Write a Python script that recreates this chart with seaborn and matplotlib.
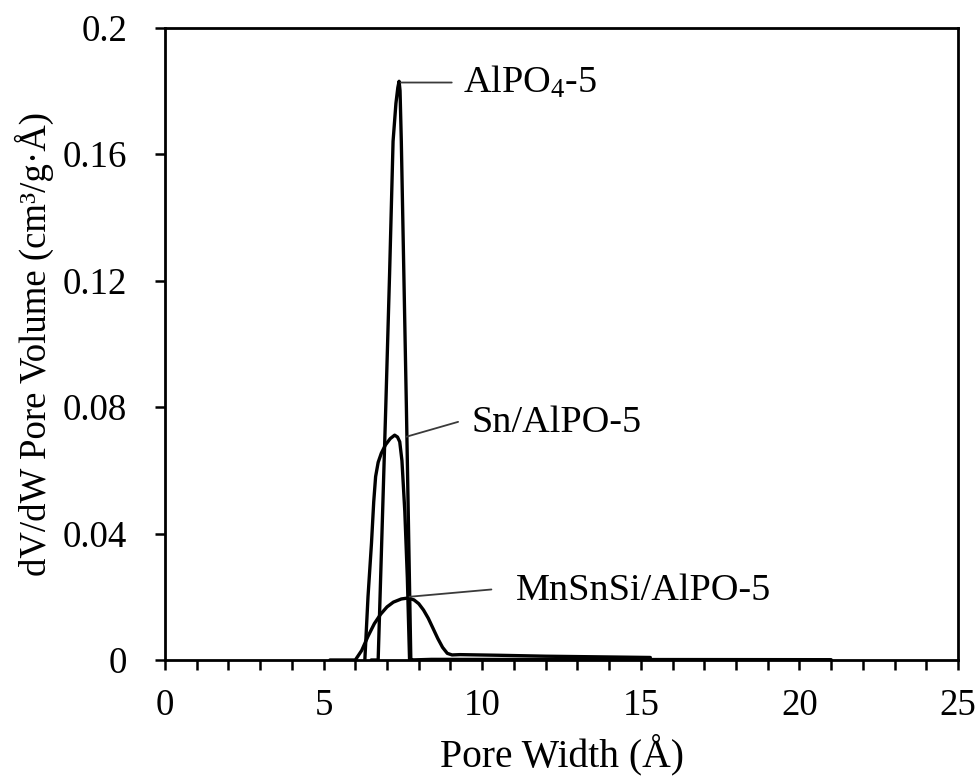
import numpy as np
import pandas as pd
import matplotlib
matplotlib.use("Agg")
import matplotlib.pyplot as plt
import seaborn as sns
from matplotlib.ticker import MultipleLocator

# ---- data ----
alpo_x = [6.50, 6.72, 6.84, 6.96, 7.08, 7.19, 7.28, 7.34, 7.38, 7.41, 7.45, 7.53, 7.61, 7.68, 7.75, 7.80]
alpo_y = [0.0, 0.0, 0.040, 0.080, 0.122, 0.164, 0.176, 0.181, 0.183, 0.180, 0.164, 0.122, 0.080, 0.040, 0.0, 0.0]

sn_x = [6.30, 6.40, 6.51, 6.58, 6.64, 6.72, 6.82, 6.95, 7.10, 7.24, 7.33, 7.40, 7.47, 7.56, 7.64, 7.71, 8.40, 21.0]
sn_y = [0.0, 0.020, 0.037, 0.050, 0.058, 0.0625, 0.0654, 0.0680, 0.0700, 0.0711, 0.0705, 0.0690, 0.063, 0.047, 0.026, 0.0, 0.0002, 0.0001]

mn_x = [5.2, 6.0, 6.2, 6.4, 6.6, 6.8, 7.0, 7.2, 7.45, 7.66, 7.85, 8.0, 8.15, 8.3, 8.45, 8.6, 8.75, 8.9, 9.05, 9.3, 10.5, 12.0, 15.3]
mn_y = [0.0, 0.0, 0.0030, 0.0075, 0.0115, 0.0145, 0.0168, 0.0183, 0.0193, 0.0196, 0.0190, 0.0178, 0.0158, 0.0132, 0.0100, 0.0068, 0.0040, 0.0021, 0.0016, 0.0017, 0.0015, 0.0012, 0.0008]

series_names = ["AlPO$_\\mathregular{4}$-5", "Sn/AlPO-5", "MnSnSi/AlPO-5"]
label_pos = [(9.38, 0.1826), (9.66, 0.0749), (11.07, 0.0220)]
leader_start = [(7.44, 0.1826), (7.61, 0.0706), (7.71, 0.0200)]
leader_end = [(9.04, 0.1826), (9.24, 0.0753), (10.29, 0.0223)]

x_ticks = [0, 5, 10, 15, 20, 25]
y_ticks = [0, 0.04, 0.08, 0.12, 0.16, 0.2]
y_ticklabels = ["0", "0.04", "0.08", "0.12", "0.16", "0.2"]

df = pd.concat([
    pd.DataFrame({"x": alpo_x, "y": alpo_y, "s": "AlPO4-5"}),
    pd.DataFrame({"x": sn_x, "y": sn_y, "s": "Sn/AlPO-5"}),
    pd.DataFrame({"x": mn_x, "y": mn_y, "s": "MnSnSi/AlPO-5"}),
], ignore_index=True)

sns.set_theme(style="white")
plt.rcParams["font.family"] = ["Liberation Serif", "DejaVu Serif"]
plt.rcParams["mathtext.fontset"] = "custom"
plt.rcParams["mathtext.rm"] = "Liberation Serif"
plt.rcParams["mathtext.it"] = "Liberation Serif:italic"

fig = plt.figure(figsize=(9.77, 7.82), dpi=100)
ax = fig.add_axes([165/977, (782-660)/782, (958-165)/977, (660-27.5)/782])

sns.lineplot(data=df, x="x", y="y", hue="s", units="s", estimator=None, sort=False,
             palette=["black", "black", "black"], linewidth=2.4, legend=False, ax=ax)

for (tx, ty), (sx, sy), (ex, ey), name in zip(label_pos, leader_start, leader_end, series_names):
    ax.annotate("", xy=(sx, sy), xytext=(ex, ey),
                arrowprops=dict(arrowstyle="-", color="#3a3a3a", lw=1.3, shrinkA=0, shrinkB=0))
    ax.text(tx, ty, name, fontsize=27.5, va="center", ha="left", color="black")

ax.set_xlim(0, 25)
ax.set_ylim(0, 0.2)
ax.set_xticks(x_ticks)
ax.set_xticklabels([str(t) for t in x_ticks])
ax.xaxis.set_minor_locator(MultipleLocator(1))
ax.set_yticks(y_ticks)
ax.set_yticklabels(y_ticklabels)

ax.tick_params(axis="both", which="both", direction="out", length=7.2, width=1.8,
               colors="black", labelsize=26.6, bottom=True, left=True, top=False, right=False)
ax.tick_params(axis="x", which="minor", length=7.2, width=1.8)
ax.tick_params(axis="x", pad=13)
ax.tick_params(axis="y", pad=20)

for sp in ax.spines.values():
    sp.set_visible(True)
    sp.set_color("black")
    sp.set_linewidth(2.0)

ax.set_xlabel("Pore Width (Å)", fontsize=28.5, color="black", labelpad=8)
ax.set_ylabel("dV/dW Pore Volume (cm³/g·Å)", fontsize=26.5, color="black", labelpad=6)
ax.grid(False)

fig.savefig("out.png", dpi=100)
